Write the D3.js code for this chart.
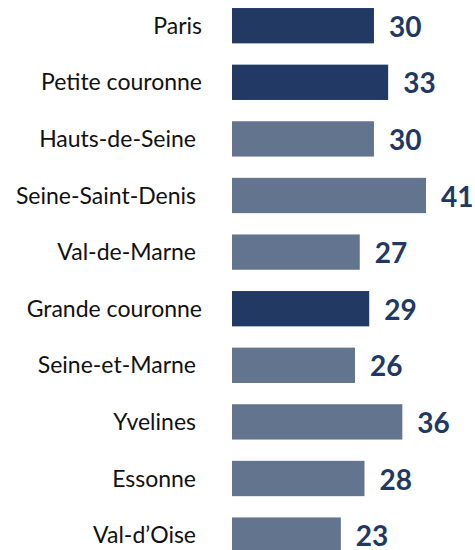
<!DOCTYPE html>
<html>
<head>
    <meta charset="utf-8" />
    <title>Bar chart</title>
    <script src="https://d3js.org/d3.v7.min.js"></script>
    <style>
        body { margin: 0; background: white; }
        .cat { font: 23px Lato, sans-serif; fill: #111; }
        .val { font: bold 28px Lato, sans-serif; fill: #203864; }
    </style>
</head>
<body>
    <div id="chart"></div>
    <script>
        let categories = ['Paris', 'Petite couronne', 'Hauts-de-Seine', 'Seine-Saint-Denis', 'Val-de-Marne',
            'Grande couronne', 'Seine-et-Marne', 'Yvelines', 'Essonne', "Val-d\u2019Oise"];
        let values = [30, 33, 30, 41, 27, 29, 26, 36, 28, 23];
        // aggregates are drawn dark, departments light
        let isTotal = [true, true, false, false, false, true, false, false, false, false];

        let width = 475, height = 550;

        let svg = d3.select('#chart').append('svg')
            .attr('width', width)
            .attr('height', height);

        let x = d3.scaleLinear().domain([0, 41]).range([232, 426]);

        let y = d3.scaleBand()
            .domain(categories)
            .range([-2.6, 563.4])
            .paddingInner(0.376)
            .paddingOuter(0.188);

        let rows = svg.selectAll('g.row')
            .data(categories)
            .enter()
            .append('g')
            .attr('class', 'row');

        rows.append('rect')
            .attr('x', x(0))
            .attr('y', d => y(d))
            .attr('width', (d, i) => x(values[i]) - x(0))
            .attr('height', y.bandwidth())
            .attr('fill', (d, i) => isTotal[i] ? '#213963' : '#63748f');

        // department labels sit a little further from the bars
        rows.append('text')
            .attr('class', 'cat')
            .attr('x', (d, i) => isTotal[i] ? 202 : 196)
            .attr('y', d => y(d) + y.bandwidth() / 2)
            .attr('dy', '0.35em')
            .attr('text-anchor', 'end')
            .text(d => d);

        rows.append('text')
            .attr('class', 'val')
            .attr('x', (d, i) => x(values[i]) + 15)
            .attr('y', d => y(d) + y.bandwidth() / 2 + 1)
            .attr('dy', '0.36em')
            .text((d, i) => values[i]);
    </script>
</body>
</html>
